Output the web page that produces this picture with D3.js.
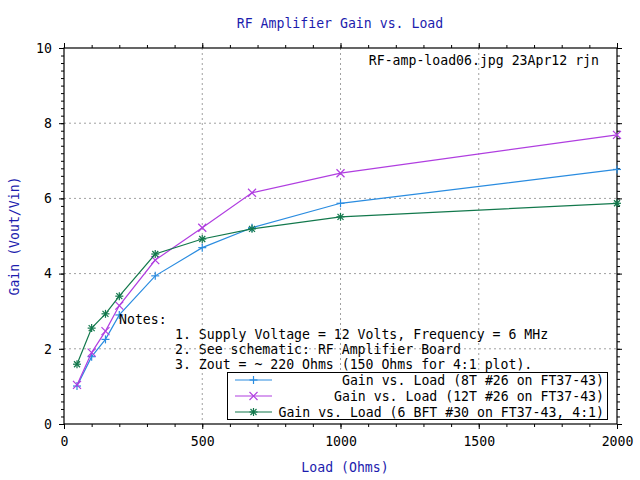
<!DOCTYPE html>
<html>
<head>
<meta charset="utf-8">
<script src="https://cdn.jsdelivr.net/npm/d3@7"></script>
<style>
  body { margin: 0; background: #fff; }
  text { font-family: "DejaVu Sans Mono", "Liberation Mono", monospace; font-size: 13.2px; }
</style>
</head>
<body>
<script>
// load values (ohms) and measured gains
var loads = [47, 100, 150, 200, 330, 500, 680, 1000, 2000];
var gain8T = [1.01, 1.79, 2.25, 2.90, 3.94, 4.69, 5.22, 5.87, 6.77];
var gain12T = [1.04, 1.90, 2.47, 3.15, 4.36, 5.22, 6.15, 6.67, 7.69];
var gainBFT = [1.59, 2.55, 2.93, 3.40, 4.52, 4.92, 5.19, 5.51, 5.87];

var seriesNames = [
  "Gain vs. Load (8T #26 on FT37-43)",
  "Gain vs. Load (12T #26 on FT37-43)",
  "Gain vs. Load (6 BFT #30 on FT37-43, 4:1)"
];
var xTicks = [0, 500, 1000, 1500, 2000];
var yTicks = [0, 2, 4, 6, 8, 10];
var notes = [
  "1. Supply Voltage = 12 Volts, Frequency = 6 MHz",
  "2. See schematic: RF Amplifier Board",
  "3. Zout = ~ 220 Ohms (150 Ohms for 4:1 plot)."
];

var svgWidth = 640;
var svgHeight = 480;
var margin = { top: 48, right: 23, bottom: 56, left: 64 };
var width = svgWidth - margin.left - margin.right;
var height = svgHeight - margin.top - margin.bottom;

var colors = ["#2a8ce0", "#b03ee0", "#12784c"];
var markers = ["plus", "cross", "star"];

var svg = d3.select("body").append("svg")
  .attr("width", svgWidth)
  .attr("height", svgHeight);

var chartGroup = svg.append("g")
  .attr("transform", "translate(" + margin.left + "," + margin.top + ")");

var xScale = d3.scaleLinear().domain([0, 2000]).range([0, width]);
var yScale = d3.scaleLinear().domain([0, 10]).range([height, 0]);

// grid
chartGroup.append("g").selectAll("line")
  .data(xTicks.slice(1, -1))
  .enter().append("line")
  .attr("x1", d => xScale(d)).attr("x2", d => xScale(d))
  .attr("y1", 0).attr("y2", height)
  .attr("stroke", "#a0a0a0").attr("stroke-dasharray", "2,3");
chartGroup.append("g").selectAll("line")
  .data(yTicks.slice(1, -1))
  .enter().append("line")
  .attr("y1", d => yScale(d)).attr("y2", d => yScale(d))
  .attr("x1", 0).attr("x2", width)
  .attr("stroke", "#a0a0a0").attr("stroke-dasharray", "2,3");

// axes, ticks pointing out on all sides
var xMinor = d3.range(0, 2001, 100);
var yMinor = d3.range(0, 10.01, 0.2);

function addAxis(axis, transform) {
  var g = chartGroup.append("g").attr("transform", transform).call(axis);
  g.select(".domain").remove();
  g.selectAll("text").style("font-size", "13.2px").attr("fill", "#000")
    .style("font-family", "'DejaVu Sans Mono', monospace");
  g.selectAll("line").attr("stroke", "#000");
  return g;
}

addAxis(d3.axisBottom(xScale).tickValues(xTicks).tickSize(5).tickPadding(8).tickFormat(d3.format("d")),
  "translate(0," + height + ")");
addAxis(d3.axisBottom(xScale).tickValues(xMinor).tickSize(3).tickFormat(""),
  "translate(0," + height + ")");
addAxis(d3.axisTop(xScale).tickValues(xTicks).tickSize(5).tickFormat(""), "translate(0,0)");
addAxis(d3.axisTop(xScale).tickValues(xMinor).tickSize(3).tickFormat(""), "translate(0,0)");

addAxis(d3.axisLeft(yScale).tickValues(yTicks).tickSize(5).tickPadding(7).tickFormat(d3.format("d")),
  "translate(0,0)");
addAxis(d3.axisLeft(yScale).tickValues(yMinor).tickSize(3).tickFormat(""), "translate(0,0)");
addAxis(d3.axisRight(yScale).tickValues(yTicks).tickSize(5).tickFormat(""), "translate(" + width + ",0)");
addAxis(d3.axisRight(yScale).tickValues(yMinor).tickSize(3).tickFormat(""), "translate(" + width + ",0)");

// border
chartGroup.append("rect")
  .attr("width", width).attr("height", height)
  .attr("fill", "none").attr("stroke", "#000").attr("stroke-width", 1.2);

// marker drawing
function drawMarker(g, type, cx, cy, color) {
  var s = 4;
  var segs = [];
  if (type === "plus" || type === "star") {
    segs.push([cx - s, cy, cx + s, cy], [cx, cy - s, cx, cy + s]);
  }
  if (type === "cross" || type === "star") {
    var t = type === "star" ? 3 : 4;
    segs.push([cx - t, cy - t, cx + t, cy + t], [cx - t, cy + t, cx + t, cy - t]);
  }
  segs.forEach(function(p) {
    g.append("line")
      .attr("x1", p[0]).attr("y1", p[1]).attr("x2", p[2]).attr("y2", p[3])
      .attr("stroke", color).attr("stroke-width", 1.2);
  });
}

var allSeries = [gain8T, gain12T, gainBFT];
var line = d3.line()
  .x(d => xScale(d[0]))
  .y(d => yScale(d[1]));

allSeries.forEach(function(vals, i) {
  var pts = loads.map((l, j) => [l, vals[j]]);
  var g = chartGroup.append("g");
  g.append("path")
    .datum(pts)
    .attr("d", line)
    .attr("fill", "none")
    .attr("stroke", colors[i])
    .attr("stroke-width", 1.2);
  pts.forEach(function(p) {
    drawMarker(g, markers[i], xScale(p[0]), yScale(p[1]), colors[i]);
  });
});

// title and axis labels
svg.append("text")
  .attr("x", 340).attr("y", 23)
  .attr("text-anchor", "middle").attr("dy", "0.35em")
  .attr("fill", "#1c1cae")
  .text("RF Amplifier Gain vs. Load");

svg.append("text")
  .attr("x", 345).attr("y", 467)
  .attr("text-anchor", "middle").attr("dy", "0.35em")
  .attr("fill", "#1c1cae")
  .text("Load (Ohms)");

svg.append("text")
  .attr("transform", "translate(14,236) rotate(-90)")
  .attr("text-anchor", "middle").attr("dy", "0.35em")
  .attr("fill", "#1c1cae")
  .text("Gain (Vout/Vin)");

// stamp label
svg.append("text")
  .attr("x", 599).attr("y", 60)
  .attr("text-anchor", "end").attr("dy", "0.35em")
  .text("RF-amp-load06.jpg 23Apr12 rjn");

// notes
svg.append("text")
  .attr("x", 119).attr("y", 319).attr("dy", "0.35em")
  .text("Notes:");
svg.selectAll(".note")
  .data(notes)
  .enter().append("text")
  .attr("class", "note")
  .attr("x", 175)
  .attr("y", (d, i) => 334 + i * 15)
  .attr("dy", "0.35em")
  .text(d => d);

// legend
var legend = svg.append("g");
legend.append("rect")
  .attr("x", 227.5).attr("y", 372.5)
  .attr("width", 380).attr("height", 47)
  .attr("fill", "#fff").attr("stroke", "#000");
seriesNames.forEach(function(name, i) {
  var ly = 380 + i * 16;
  legend.append("line")
    .attr("x1", 235).attr("x2", 272)
    .attr("y1", ly).attr("y2", ly)
    .attr("stroke", colors[i]).attr("stroke-width", 1.2);
  drawMarker(legend, markers[i], 253.5, ly, colors[i]);
  legend.append("text")
    .attr("x", 604).attr("y", ly)
    .attr("text-anchor", "end").attr("dy", "0.35em")
    .text(name);
});
</script>
</body>
</html>
